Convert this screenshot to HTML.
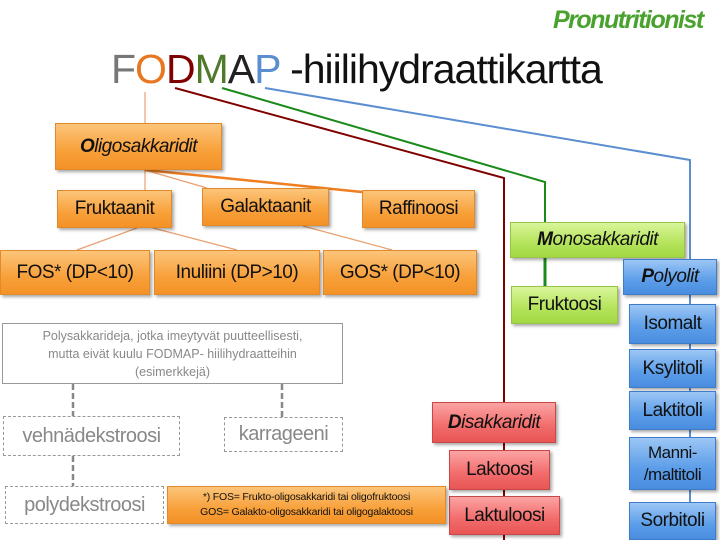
<!DOCTYPE html>
<html><head><meta charset="utf-8"><style>
body{margin:0;width:720px;height:540px;background:#fff;position:relative;overflow:hidden;font-family:"Liberation Sans",sans-serif}
.b{position:absolute;box-sizing:border-box;display:flex;align-items:center;justify-content:center;text-align:center;color:#111;white-space:nowrap;box-shadow:2px 2px 3px rgba(0,0,0,.35);letter-spacing:-0.5px}
.o{background:linear-gradient(#fcc57a,#f8a03a 60%,#f39226);border:1px solid #e08a2c}
.g{background:linear-gradient(#d9f59a,#b4e35a 60%,#a2d844);border:1px solid #98c44a}
.bl{background:linear-gradient(#9cc6f5,#5b9de8 60%,#4a8de0);border:1px solid #3f7cc8}
.r{background:linear-gradient(#fba3a3,#f26b6b 60%,#e85555);border:1px solid #c84848}
.gr{position:absolute;box-sizing:border-box;display:flex;align-items:center;justify-content:center;text-align:center;color:#888;border:1px dashed #999;background:#fff;white-space:nowrap;letter-spacing:-0.5px}
i b{font-style:italic}
</style></head><body>
<svg width="720" height="540" style="position:absolute;left:0;top:0">
<line x1="145" y1="92" x2="145" y2="123" stroke="#e8a070" stroke-width="1.2"/>
<polyline points="175,88 504,178 504,540" fill="none" stroke="#800000" stroke-width="2"/>
<polyline points="222,88 545,182 545,224" fill="none" stroke="#1a8a1a" stroke-width="2"/>
<line x1="545" y1="258" x2="545" y2="287" stroke="#1a8a1a" stroke-width="3"/>
<polyline points="265,88 690,160 690,540" fill="none" stroke="#5b8ed0" stroke-width="2"/>
<line x1="145" y1="170" x2="145" y2="190" stroke="#e8a070" stroke-width="1.2"/>
<line x1="145" y1="170" x2="207" y2="188" stroke="#e8a070" stroke-width="1.2"/>
<line x1="145" y1="170" x2="362" y2="192" stroke="#f07d20" stroke-width="2.5"/>
<line x1="137" y1="228" x2="77" y2="250" stroke="#e8a070" stroke-width="1.2"/>
<line x1="153" y1="228" x2="237" y2="250" stroke="#e8a070" stroke-width="1.2"/>
<line x1="303" y1="226" x2="392" y2="250" stroke="#e8a070" stroke-width="1.2"/>
<line x1="73" y1="384" x2="73" y2="416" stroke="#888" stroke-width="2.5" stroke-dasharray="6,3"/>
<line x1="282" y1="384" x2="282" y2="417" stroke="#888" stroke-width="2.5" stroke-dasharray="6,3"/>
<line x1="73" y1="456" x2="73" y2="486" stroke="#888" stroke-width="2.5" stroke-dasharray="6,3"/>
</svg>
<div style="position:absolute;left:553px;top:6px;font-size:25px;font-weight:bold;color:#4aa22e;letter-spacing:-1.5px;font-style:italic">Pronutritionist</div>
<div style="position:absolute;left:111px;top:46px;font-size:41px;letter-spacing:-1px;color:#111"><span style="color:#777">F</span><span style="color:#e87722">O</span><span style="color:#800000">D</span><span style="color:#4e7a2a">M</span><span style="color:#222">A</span><span style="color:#5b8ed0">P</span> -hiilihydraattikartta</div>
<div class="b o" style="left:55px;top:123px;width:167px;height:47px;font-size:19px;font-style:italic"><b>O</b>ligosakkaridit</div>
<div class="b o" style="left:57px;top:190px;width:115px;height:38px;font-size:19px">Fruktaanit</div>
<div class="b o" style="left:202px;top:188px;width:127px;height:38px;font-size:19px">Galaktaanit</div>
<div class="b o" style="left:362px;top:190px;width:113px;height:38px;font-size:19px">Raffinoosi</div>
<div class="b o" style="left:0px;top:250px;width:150px;height:45px;font-size:19px">FOS* (DP&lt;10)</div>
<div class="b o" style="left:154px;top:250px;width:166px;height:45px;font-size:19px">Inuliini (DP&gt;10)</div>
<div class="b o" style="left:323px;top:250px;width:154px;height:45px;font-size:19px">GOS* (DP&lt;10)</div>
<div class="b g" style="left:510px;top:222px;width:175px;height:36px;font-size:19px;font-style:italic"><b>M</b>onosakkaridit</div>
<div class="b g" style="left:511px;top:286px;width:107px;height:38px;font-size:19px">Fruktoosi</div>
<div class="b bl" style="left:623px;top:259px;width:94px;height:36px;font-size:19px;font-style:italic"><b>P</b>olyolit</div>
<div class="b bl" style="left:629px;top:304px;width:87px;height:40px;font-size:19px">Isomalt</div>
<div class="b bl" style="left:629px;top:349px;width:87px;height:39px;font-size:19px">Ksylitoli</div>
<div class="b bl" style="left:629px;top:391px;width:87px;height:39px;font-size:19px">Laktitoli</div>
<div class="b bl" style="left:629px;top:437px;width:87px;height:53px;font-size:17px;line-height:22px;white-space:normal">Manni-<br>/maltitoli</div>
<div class="b bl" style="left:629px;top:502px;width:87px;height:38px;font-size:19px">Sorbitoli</div>
<div class="b r" style="left:432px;top:402px;width:124px;height:41px;font-size:19px;font-style:italic"><b>D</b>isakkaridit</div>
<div class="b r" style="left:449px;top:450px;width:101px;height:40px;font-size:19px">Laktoosi</div>
<div class="b r" style="left:449px;top:496px;width:111px;height:39px;font-size:19px">Laktuloosi</div>
<div class="gr" style="left:2px;top:323px;width:341px;height:61px;border:1px solid #999;font-size:12.5px;line-height:18px;white-space:normal;letter-spacing:0">Polysakkarideja, jotka imeytyvät puutteellisesti,<br>mutta eivät kuulu FODMAP- hiilihydraatteihin<br>(esimerkkejä)</div>
<div class="gr" style="left:3px;top:416px;width:177px;height:40px;font-size:20px">vehnädekstroosi</div>
<div class="gr" style="left:224px;top:417px;width:119px;height:35px;font-size:20px">karrageeni</div>
<div class="gr" style="left:5px;top:486px;width:159px;height:38px;font-size:20px">polydekstroosi</div>
<div class="b o" style="left:167px;top:486px;width:279px;height:38px;font-size:10.5px;line-height:15px;letter-spacing:-0.2px">*) FOS= Frukto-oligosakkaridi tai oligofruktoosi<br>GOS= Galakto-oligosakkaridi tai oligogalaktoosi</div>
</body></html>
